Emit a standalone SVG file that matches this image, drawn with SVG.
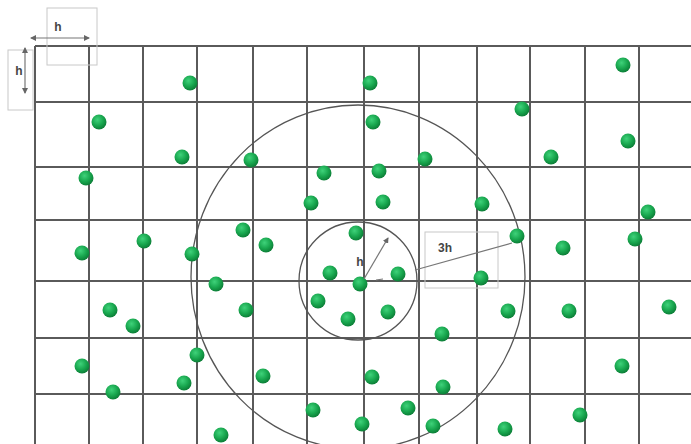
<svg xmlns="http://www.w3.org/2000/svg" width="691" height="444" viewBox="0 0 691 444">
<defs>
<radialGradient id="g" cx="0.4" cy="0.35" r="0.65">
<stop offset="0" stop-color="#3fd27a"/>
<stop offset="0.6" stop-color="#18a64e"/>
<stop offset="1" stop-color="#0d7f38"/>
</radialGradient>
<marker id="ah" viewBox="0 0 6 6" refX="5" refY="3" markerWidth="5" markerHeight="5" orient="auto-start-reverse">
<path d="M0,0 L6,3 L0,6 z" fill="#666"/>
</marker>
</defs>
<style>
.grid line{stroke:#5a5a5a;stroke-width:2}
.circ{fill:none;stroke:#555;stroke-width:1.3}
.box{fill:none;stroke:#c8c8c8;stroke-width:1}
.lbl{font-family:"Liberation Sans",Arial,sans-serif;font-size:12px;font-weight:bold;fill:#444}
.dim{stroke:#777;stroke-width:1.2;fill:none}
.dots circle{fill:url(#g);r:7.5}
</style>
<rect width="691" height="444" fill="#fff"/>
<g id="grid" class="grid">
<line x1="35" y1="46" x2="691" y2="46"/>
<line x1="35" y1="102" x2="691" y2="102"/>
<line x1="35" y1="167" x2="691" y2="167"/>
<line x1="35" y1="220" x2="691" y2="220"/>
<line x1="35" y1="281" x2="691" y2="281"/>
<line x1="35" y1="338" x2="691" y2="338"/>
<line x1="35" y1="394" x2="691" y2="394"/>
<line x1="35" y1="46" x2="35" y2="444"/>
<line x1="89" y1="46" x2="89" y2="444"/>
<line x1="143" y1="46" x2="143" y2="444"/>
<line x1="197" y1="46" x2="197" y2="444"/>
<line x1="253" y1="46" x2="253" y2="444"/>
<line x1="307" y1="46" x2="307" y2="444"/>
<line x1="364" y1="46" x2="364" y2="444"/>
<line x1="419" y1="46" x2="419" y2="444"/>
<line x1="477" y1="46" x2="477" y2="444"/>
<line x1="530" y1="46" x2="530" y2="444"/>
<line x1="585" y1="46" x2="585" y2="444"/>
<line x1="639" y1="46" x2="639" y2="444"/>
</g>
<g id="scale-h">
<rect class="box" x="47" y="8" width="50" height="57"/>
<text class="lbl" x="58" y="31" text-anchor="middle">h</text>
<line class="dim" x1="31" y1="38" x2="89" y2="38" marker-start="url(#ah)" marker-end="url(#ah)"/>
</g>
<g id="scale-v">
<rect class="box" x="8" y="50" width="25" height="60"/>
<text class="lbl" x="19" y="75" text-anchor="middle">h</text>
<line class="dim" x1="25" y1="48" x2="25" y2="93" marker-start="url(#ah)" marker-end="url(#ah)"/>
</g>
<g id="big-circle"><ellipse class="circ" cx="358" cy="277" rx="167" ry="172"/></g>
<g id="small-circle"><circle class="circ" cx="358" cy="281" r="59"/></g>
<g id="dots" class="dots">
<circle cx="190" cy="83" r="7.5"/><circle cx="370" cy="83" r="7.5"/><circle cx="623" cy="65" r="7.5"/>
<circle cx="99" cy="122" r="7.5"/><circle cx="373" cy="122" r="7.5"/><circle cx="522" cy="109" r="7.5"/>
<circle cx="182" cy="157" r="7.5"/><circle cx="251" cy="160" r="7.5"/><circle cx="425" cy="159" r="7.5"/>
<circle cx="551" cy="157" r="7.5"/><circle cx="628" cy="141" r="7.5"/>
<circle cx="86" cy="178" r="7.5"/><circle cx="324" cy="173" r="7.5"/><circle cx="379" cy="171" r="7.5"/>
<circle cx="311" cy="203" r="7.5"/><circle cx="383" cy="202" r="7.5"/><circle cx="482" cy="204" r="7.5"/>
<circle cx="648" cy="212" r="7.5"/>
<circle cx="243" cy="230" r="7.5"/><circle cx="144" cy="241" r="7.5"/><circle cx="266" cy="245" r="7.5"/>
<circle cx="82" cy="253" r="7.5"/><circle cx="192" cy="254" r="7.5"/><circle cx="356" cy="233" r="7.5"/>
<circle cx="517" cy="236" r="7.5"/><circle cx="563" cy="248" r="7.5"/><circle cx="635" cy="239" r="7.5"/>
<circle cx="330" cy="273" r="7.5"/><circle cx="398" cy="274" r="7.5"/><circle cx="360" cy="284" r="7.5"/>
<circle cx="481" cy="278" r="7.5"/><circle cx="216" cy="284" r="7.5"/>
<circle cx="318" cy="301" r="7.5"/><circle cx="348" cy="319" r="7.5"/><circle cx="388" cy="312" r="7.5"/>
<circle cx="110" cy="310" r="7.5"/><circle cx="246" cy="310" r="7.5"/><circle cx="508" cy="311" r="7.5"/>
<circle cx="569" cy="311" r="7.5"/><circle cx="669" cy="307" r="7.5"/><circle cx="133" cy="326" r="7.5"/>
<circle cx="442" cy="334" r="7.5"/>
<circle cx="82" cy="366" r="7.5"/><circle cx="197" cy="355" r="7.5"/><circle cx="113" cy="392" r="7.5"/>
<circle cx="184" cy="383" r="7.5"/><circle cx="263" cy="376" r="7.5"/><circle cx="372" cy="377" r="7.5"/>
<circle cx="443" cy="387" r="7.5"/><circle cx="622" cy="366" r="7.5"/>
<circle cx="221" cy="435" r="7.5"/><circle cx="313" cy="410" r="7.5"/><circle cx="362" cy="424" r="7.5"/>
<circle cx="408" cy="408" r="7.5"/><circle cx="433" cy="426" r="7.5"/><circle cx="505" cy="429" r="7.5"/>
<circle cx="580" cy="415" r="7.5"/>
</g>
<g id="radius-h">
<line class="dim" x1="364" y1="279" x2="388" y2="238" marker-end="url(#ah)"/>
<line class="dim" x1="376" y1="280" x2="383" y2="279"/>
<text class="lbl" x="360" y="266" text-anchor="middle">h</text>
</g>
<g id="radius-3h">
<rect class="box" x="425" y="232" width="73" height="56"/>
<line class="dim" x1="415" y1="270" x2="512" y2="243"/>
<text class="lbl" x="445" y="252" text-anchor="middle">3h</text>
</g>
</svg>
